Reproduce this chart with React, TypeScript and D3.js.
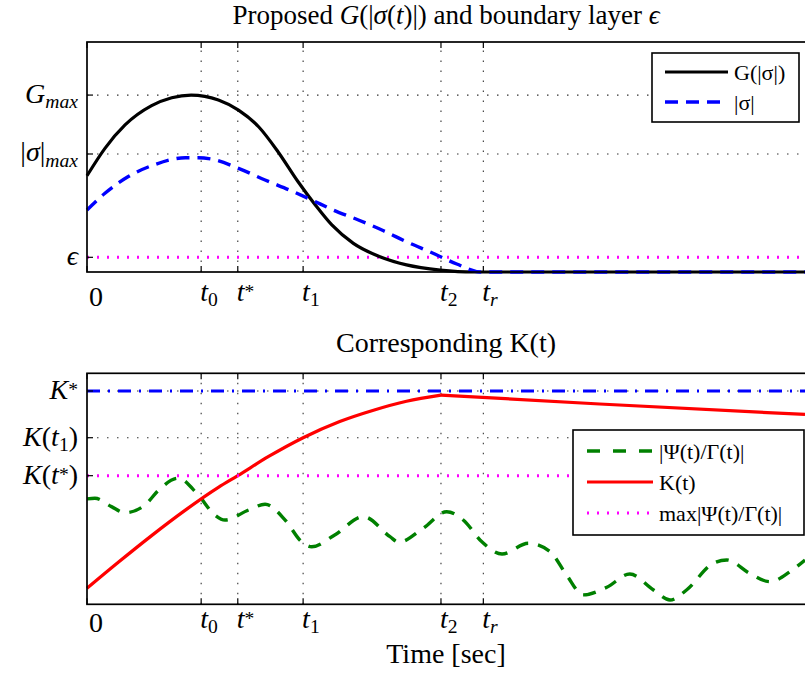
import React from 'react';
import * as d3 from 'd3';

const W = 805;
const H = 674;
const FONT = "'Liberation Serif', 'DejaVu Serif', serif";

// ---- shared time axis ----
const T_END = 10;
const timeTickValues = [0, 1.59, 2.1, 3.01, 4.93, 5.52];
const timeTickLabels = ['$0$', '$t_0$', '$t^*$', '$t_1$', '$t_2$', '$t_r$'];

// ---- upper panel: G(|sigma|), |sigma| and the boundary layer ----
const G_MAX = 1.0;
const SIGMA_MAX = 0.667;
const EPSILON = 0.083;
const upperTickValues = [EPSILON, SIGMA_MAX, G_MAX];
const upperTickLabels = ['$ϵ$', '$|σ|_{max}$', '$G_{max}$'];

const gTime = [0, 0.25, 0.53, 0.9, 1.18, 1.45, 1.83, 2.11, 2.39, 2.66, 2.94, 3.18, 3.41, 3.71, 4.08, 4.45, 4.92, 5.38, 10];
const gValue = [0.544, 0.699, 0.831, 0.94, 0.985, 1.0, 0.972, 0.915, 0.821, 0.68, 0.51, 0.379, 0.266, 0.162, 0.086, 0.04, 0.011, 0, 0];

const sigmaTime = [0, 0.25, 0.57, 0.95, 1.37, 1.55, 1.74, 2.11, 2.48, 2.85, 3.13, 3.43, 3.78, 4.13, 4.45, 4.82, 5.15, 5.48, 10];
const sigmaValue = [0.35, 0.445, 0.538, 0.608, 0.646, 0.646, 0.638, 0.586, 0.52, 0.458, 0.407, 0.35, 0.294, 0.233, 0.171, 0.106, 0.045, 0, 0];

// ---- lower panel: gain K(t) and the bound it has to dominate ----
const K_STAR = 1.0;
const K_T1 = 0.781;
const K_TSTAR = 0.603;
const lowerTickValues = [K_TSTAR, K_T1, K_STAR];
const lowerTickLabels = ['$K(t^*)$', '$K(t_1)$', '$K^*$'];

const kTime = [0, 0.44, 0.9, 1.36, 1.83, 2.1, 2.53, 3.01, 3.52, 3.99, 4.45, 4.93, 7.14, 10];
const kValue = [0.075, 0.198, 0.322, 0.439, 0.548, 0.603, 0.693, 0.781, 0.857, 0.91, 0.952, 0.981, 0.939, 0.89];

const ratioTime = [0, 0.11, 0.34, 0.53, 0.81, 1.0, 1.27, 1.55, 1.78, 1.92, 2.25, 2.48, 2.76, 2.99, 3.13, 3.45, 3.85, 4.22, 4.34, 4.68, 5.01, 5.24, 5.5, 5.78, 6.15, 6.45, 6.68, 6.91, 7.24, 7.56, 7.89, 8.12, 8.35, 8.72, 8.91, 9.23, 9.51, 9.79, 10];
const ratioValue = [0.494, 0.497, 0.458, 0.429, 0.466, 0.536, 0.591, 0.512, 0.419, 0.395, 0.442, 0.469, 0.395, 0.293, 0.27, 0.325, 0.411, 0.317, 0.291, 0.356, 0.434, 0.395, 0.293, 0.236, 0.286, 0.247, 0.137, 0.044, 0.08, 0.142, 0.067, 0.02, 0.067, 0.192, 0.208, 0.145, 0.106, 0.153, 0.208];

// ---- layout ----
const LEFT = 87;
const RIGHT = 805;
const FRAME_RIGHT = 808;
const upper = { top: 42, bottom: 272, labelBase: 301 };
const lower = { top: 373.3, bottom: 604.3, labelBase: 627.5 };

const x = d3.scaleLinear().domain([0, T_END]).range([LEFT, RIGHT]);
const yUpper = d3.scaleLinear().domain([0, 1.3]).range([upper.bottom, upper.top]);
const yLower = d3.scaleLinear().domain([0, 1.083]).range([lower.bottom, lower.top]);

const COLORS = {
  blue: '#0000ff',
  red: '#ff0000',
  green: '#008000',
  magenta: '#ff00ff',
};

const DOTTED = '2,8';

// --- minimal TeX-like label renderer: $...$ is math (letters italic), _ and ^ shift ---
type Run = { text: string; italic: boolean; shift: number };
function parseTex(s: string): Run[] {
  const runs: Run[] = [];
  let math = false;
  let i = 0;
  const isLetter = (c: string) => /[A-Za-zα-ωϵ]/.test(c);
  const push = (ch: string, italic: boolean, shift: number) => {
    const last = runs[runs.length - 1];
    if (last && last.italic === italic && last.shift === shift) last.text += ch;
    else runs.push({ text: ch, italic, shift });
  };
  while (i < s.length) {
    const c = s[i];
    if (c === '$') { math = !math; i++; continue; }
    if (math && (c === '_' || c === '^')) {
      const shift = c === '_' ? 1 : -1;
      i++;
      let grp: string;
      if (s[i] === '{') {
        const j = s.indexOf('}', i);
        grp = s.slice(i + 1, j);
        i = j + 1;
      } else {
        grp = s[i];
        i++;
      }
      for (const ch of grp) push(ch, isLetter(ch), shift);
      continue;
    }
    push(c, math && isLetter(c), 0);
    i++;
  }
  return runs;
}

function Tex({ s, x: px, y: py, size, anchor = 'start' }: { s: string; x: number; y: number; size: number; anchor?: string }) {
  const runs = parseTex(s);
  let offset = 0;
  return (
    <text x={px} y={py} fontSize={size} fontFamily={FONT} textAnchor={anchor} fill="#000">
      {runs.map((r, k) => {
        const target = r.shift === 1 ? size * 0.19 : r.shift === -1 ? -size * 0.1 : 0;
        const dy = target - offset;
        offset = target;
        return (
          <tspan key={k} dy={dy} fontStyle={r.italic ? 'italic' : 'normal'} fontSize={r.shift ? size * 0.7 : size}>
            {r.text}
          </tspan>
        );
      })}
    </text>
  );
}

const smooth = (ys: d3.ScaleLinear<number, number>) =>
  d3.line<[number, number]>().x(d => x(d[0])).y(d => ys(d[1])).curve(d3.curveMonotoneX);
const straight = (ys: d3.ScaleLinear<number, number>) =>
  d3.line<[number, number]>().x(d => x(d[0])).y(d => ys(d[1]));

const zip = (a: number[], b: number[]) => a.map((v, i) => [v, b[i]] as [number, number]);

const GRID = { stroke: '#333', strokeWidth: 1.1, strokeDasharray: '1.5,8.5' };
const TICK_LEN = 6;
const LABEL_SIZE = 28;

function Frame({ top, bottom, ys, tickValues }: { top: number; bottom: number; ys: d3.ScaleLinear<number, number>; tickValues: number[] }) {
  return (
    <g stroke="#000" strokeWidth={1.2} fill="none">
      {timeTickValues.map((t, i) => (
        <g key={'x' + i}>
          <line x1={x(t)} x2={x(t)} y1={bottom} y2={bottom - TICK_LEN} />
          <line x1={x(t)} x2={x(t)} y1={top} y2={top + TICK_LEN} />
        </g>
      ))}
      {tickValues.map((v, i) => (
        <line key={'y' + i} x1={LEFT} x2={LEFT + TICK_LEN} y1={ys(v)} y2={ys(v)} />
      ))}
      <rect x={LEFT} y={top} width={FRAME_RIGHT - LEFT} height={bottom - top} strokeWidth={1.7} />
    </g>
  );
}

function Grid({ top, bottom, ys, tickValues }: { top: number; bottom: number; ys: d3.ScaleLinear<number, number>; tickValues: number[] }) {
  return (
    <g {...GRID} fill="none">
      {timeTickValues.filter(t => t > 0).map((t, i) => (
        <line key={'gx' + i} x1={x(t)} x2={x(t)} y1={bottom} y2={top} />
      ))}
      {tickValues.map((v, i) => (
        <line key={'gy' + i} x1={LEFT} x2={FRAME_RIGHT} y1={ys(v)} y2={ys(v)} />
      ))}
    </g>
  );
}

function TimeLabels({ base }: { base: number }) {
  return (
    <g>
      {timeTickValues.map((t, i) => (
        <Tex key={i} s={timeTickLabels[i]} x={x(t) + (t === 0 ? 2 : -1)} y={base + (t === 0 ? 4.5 : 0)} size={LABEL_SIZE} />
      ))}
    </g>
  );
}

function LegendBox({ x0, y0, w, h, items }: { x0: number; y0: number; w: number; h: number; items: { label: string; color: string; dash: string; width: number; y: number; lx: [number, number] }[] }) {
  return (
    <g>
      <rect x={x0} y={y0} width={w} height={h} fill="#fff" stroke="#000" strokeWidth={1.6} />
      {items.map((it, i) => (
        <g key={i}>
          <line x1={it.lx[0]} x2={it.lx[1]} y1={it.y} y2={it.y} stroke={it.color} strokeWidth={it.width} strokeDasharray={it.dash} />
          <text x={it.lx[1] + 6} y={it.y + 7.5} fontSize={22} fontFamily={FONT} fill="#000">{it.label}</text>
        </g>
      ))}
    </g>
  );
}

export default function App() {
  const gPath = smooth(yUpper)(zip(gTime, gValue)) ?? '';
  const sigmaPath = smooth(yUpper)(zip(sigmaTime, sigmaValue)) ?? '';

  const kPeak = d3.maxIndex(kValue);
  const kRise = smooth(yLower)(zip(kTime, kValue).slice(0, kPeak + 1)) ?? '';
  const kFall = straight(yLower)(zip(kTime, kValue).slice(kPeak)) ?? '';
  const ratioPath = smooth(yLower)(zip(ratioTime, ratioValue)) ?? '';

  return (
    <svg width={W} height={H} style={{ position: 'absolute', left: 0, top: 0, background: '#fff' }}>
      <rect width={W} height={H} fill="#fff" />

      {/* upper panel */}
      <Tex s="Proposed $G(|σ(t)|)$ and boundary layer $ϵ$" x={446} y={24} size={27} anchor="middle" />
      <Grid top={upper.top} bottom={upper.bottom} ys={yUpper} tickValues={upperTickValues.filter(v => v !== EPSILON)} />
      <line x1={LEFT} x2={FRAME_RIGHT} y1={yUpper(EPSILON)} y2={yUpper(EPSILON)} stroke={COLORS.magenta} strokeWidth={3} strokeDasharray={DOTTED} />
      <path d={gPath} fill="none" stroke="#000" strokeWidth={3.2} />
      <path d={sigmaPath} fill="none" stroke={COLORS.blue} strokeWidth={3.4} strokeDasharray="13,8" />
      <LegendBox
        x0={652} y0={53} w={147} h={69}
        items={[
          { label: 'G(|σ|)', color: '#000', dash: 'none', width: 3.2, y: 72, lx: [665, 728] },
          { label: '|σ|', color: COLORS.blue, dash: '13,8', width: 3.4, y: 102, lx: [665, 728] },
        ]}
      />
      <Frame top={upper.top} bottom={upper.bottom} ys={yUpper} tickValues={upperTickValues} />
      {upperTickValues.map((v, i) => (
        <Tex key={'ul' + i} s={upperTickLabels[i]} x={78} y={yUpper(v) + 7.5} size={LABEL_SIZE} anchor="end" />
      ))}
      <TimeLabels base={upper.labelBase} />

      {/* lower panel */}
      <text x={446} y={352} fontSize={28} fontFamily={FONT} textAnchor="middle">Corresponding K(t)</text>
      <Grid top={lower.top} bottom={lower.bottom} ys={yLower} tickValues={lowerTickValues.filter(v => v !== K_TSTAR)} />
      <line x1={LEFT} x2={FRAME_RIGHT} y1={yLower(K_STAR)} y2={yLower(K_STAR)} stroke={COLORS.blue} strokeWidth={3.2} strokeDasharray="13,8,2,8" />
      <path d={ratioPath} fill="none" stroke={COLORS.green} strokeWidth={3.4} strokeDasharray="13,10" />
      <path d={kRise} fill="none" stroke={COLORS.red} strokeWidth={3.2} />
      <path d={kFall} fill="none" stroke={COLORS.red} strokeWidth={3.2} />
      <line x1={LEFT} x2={FRAME_RIGHT} y1={yLower(K_TSTAR)} y2={yLower(K_TSTAR)} stroke={COLORS.magenta} strokeWidth={3} strokeDasharray={DOTTED} />
      <LegendBox
        x0={573} y0={430} w={231} h={105}
        items={[
          { label: '|Ψ(t)/Γ(t)|', color: COLORS.green, dash: '13,13', width: 3.4, y: 451, lx: [587, 653] },
          { label: 'K(t)', color: COLORS.red, dash: 'none', width: 3.2, y: 482, lx: [587, 653] },
          { label: 'max|Ψ(t)/Γ(t)|', color: COLORS.magenta, dash: DOTTED, width: 3, y: 513, lx: [587, 653] },
        ]}
      />
      <Frame top={lower.top} bottom={lower.bottom} ys={yLower} tickValues={lowerTickValues} />
      {lowerTickValues.map((v, i) => (
        <Tex key={'ll' + i} s={lowerTickLabels[i]} x={78} y={yLower(v) + 8} size={LABEL_SIZE} anchor="end" />
      ))}
      <TimeLabels base={lower.labelBase} />
      <text x={446} y={663} fontSize={28} fontFamily={FONT} textAnchor="middle">Time [sec]</text>
    </svg>
  );
}
